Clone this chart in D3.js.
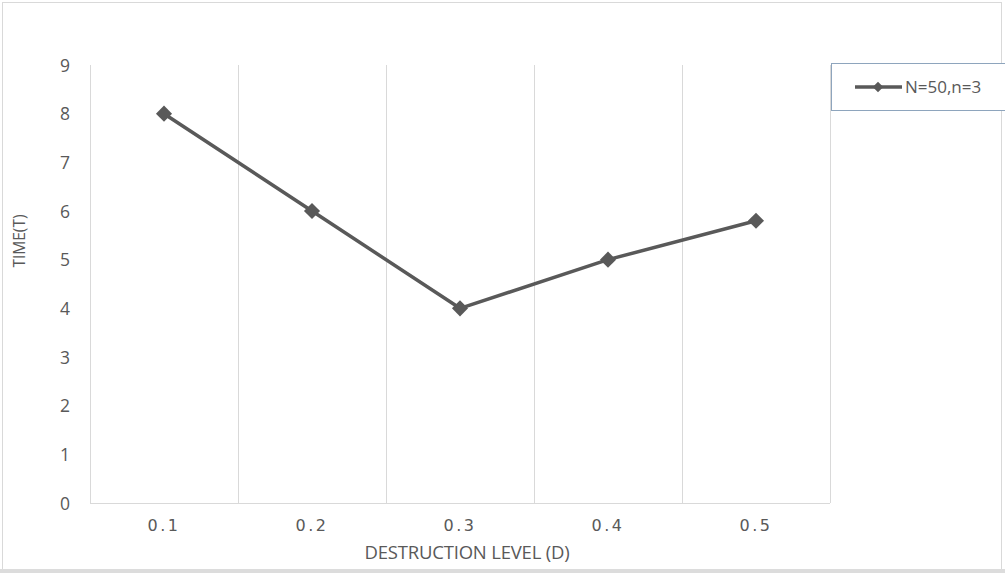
<!DOCTYPE html>
<html><head><meta charset="utf-8">
<script src="https://cdn.jsdelivr.net/npm/d3@7"></script>
<style>body{margin:0;background:#fff}svg{display:block}</style>
</head><body>
<svg id="c" width="1005" height="573"></svg>
<script>
const categories = ["0.1","0.2","0.3","0.4","0.5"];
const values = [8, 6, 4, 5, 5.8];
const yTicks = [0,1,2,3,4,5,6,7,8,9];
const seriesName = "N=50,n=3";

const svg = d3.select("#c");
const W = 1005, H = 573;
const m = {left: 90, right: 830, top: 65, bottom: 503};
const FONT = "'Open Sans', 'Liberation Sans', sans-serif";

svg.append("rect").attr("x",0).attr("y",0).attr("width",W).attr("height",H).attr("fill","#fff");
svg.append("rect").attr("x",2.5).attr("y",2.5).attr("width",999).attr("height",567)
  .attr("fill","none").attr("stroke","#d9d9d9").attr("stroke-width",1);
svg.append("rect").attr("x",0).attr("y",569).attr("width",W).attr("height",4).attr("fill","#dcdcdc");

const x = d3.scaleBand().domain(categories).range([m.left, m.right]).paddingInner(0).paddingOuter(0);
const y = d3.scaleLinear().domain([0,9]).range([m.bottom, m.top]);

const bounds = categories.map(c => x(c)).concat([x(categories[categories.length-1]) + x.bandwidth()]);
svg.append("g").selectAll("line").data(bounds).join("line")
  .attr("x1", d => Math.round(d)+0.5).attr("x2", d => Math.round(d)+0.5)
  .attr("y1", m.top).attr("y2", m.bottom)
  .attr("stroke","#d9d9d9").attr("stroke-width",1);
svg.append("line").attr("x1", m.left).attr("x2", m.right).attr("y1", m.bottom+0.5).attr("y2", m.bottom+0.5)
  .attr("stroke","#d9d9d9");

const yAxis = d3.axisLeft(y).tickValues(yTicks).tickSize(0).tickPadding(0);
const gy = svg.append("g").attr("transform", `translate(${m.left-20},0)`).call(yAxis);
gy.select(".domain").remove();
gy.selectAll("text").attr("font-family", FONT)
  .attr("font-size", 17.5).attr("fill","#595959").attr("text-anchor","end").attr("dy","0.36em");

const xAxis = d3.axisBottom(x).tickSize(0).tickPadding(0);
const gx = svg.append("g").attr("transform", `translate(0,${m.bottom+17})`).call(xAxis);
gx.select(".domain").remove();
gx.selectAll("text").attr("font-family","'DejaVu Sans', sans-serif")
  .attr("font-size", 16).attr("fill","#595959").attr("letter-spacing", "2.5px");

svg.append("text").attr("x", (m.left+m.right)/2 + 7).attr("y", 559)
  .attr("text-anchor","middle").attr("font-family", FONT)
  .attr("font-size", 18.5).attr("fill","#595959").attr("letter-spacing","-0.2px").text("DESTRUCTION LEVEL (D)");
svg.append("text").attr("transform", `translate(25,241) rotate(-90)`)
  .attr("text-anchor","middle").attr("font-family", FONT)
  .attr("font-size", 15.5).attr("fill","#595959").text("TIME(T)");

const cx = c => x(c) + x.bandwidth()/2;
const pts = categories.map((c,i) => [cx(c), y(values[i])]);
svg.append("path").attr("d", d3.line()(pts)).attr("fill","none")
  .attr("stroke","#595959").attr("stroke-width",3.5).attr("stroke-linejoin","round");
const diamond = d3.symbol().type(d3.symbolSquare).size(130);
svg.append("g").selectAll("path").data(pts).join("path")
  .attr("transform", d => `translate(${d[0]},${d[1]}) rotate(45)`)
  .attr("d", diamond).attr("fill","#595959");

const lg = svg.append("g");
lg.append("rect").attr("x", 831.5).attr("y", 63.5).attr("width", 180).attr("height", 47)
  .attr("fill","#fff").attr("stroke","#8ea5bd").attr("stroke-width",1);
lg.append("line").attr("x1", 855).attr("x2", 902).attr("y1", 87).attr("y2", 87)
  .attr("stroke","#595959").attr("stroke-width",3.5);
lg.append("path").attr("transform","translate(878,87) rotate(45)").attr("d", d3.symbol().type(d3.symbolSquare).size(55)).attr("fill","#595959");
lg.append("text").attr("x", 905).attr("y", 93).attr("font-family", FONT)
  .attr("font-size", 17).attr("fill","#595959").text(seriesName);
</script>
</body></html>
